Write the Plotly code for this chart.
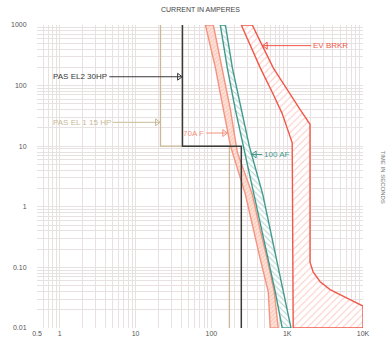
import numpy as np
import plotly.graph_objects as go

# ---------------- data ----------------
# PAS EL2 30HP (step curve)
el2_amps = [41.5, 41.5, 248, 248]
el2_time = [1000, 10, 10, 0.01]
# PAS EL 1 15 HP (step curve)
el1_amps = [21.3, 21.3, 172.6, 172.6]
el1_time = [1000, 10, 10, 0.01]

# 70A F band
f70_time = [1000, 196, 40, 10.2, 1.62, 0.41, 0.137, 0.040, 0.01]
f70_left = [83.4, 113, 144, 178, 280, 357, 441, 562, 597]
f70_right = [106, 139, 178, 220, 346, 441, 546, 674, 762]
f70_rtime = [1000, 196, 40, 7.9, 1.62, 0.41, 0.137, 0.040, 0.01]

# 100 AF band
af_time = [1000, 196, 40, 10.2, 1.62, 0.41, 0.137, 0.040, 0.01]
af_left = [131, 162, 207, 264, 364, 462, 562, 695, 859]
af_rtime = [1000, 196, 40, 10, 1.62, 0.41, 0.137, 0.040, 0.01]
af_right = [153, 189, 248, 316, 475, 597, 723, 889, 1122]

# EV BRKR band
ev_ltime = [1000, 457, 196, 72, 34.5, 11.4, 0.01]
ev_left = [248, 326, 441, 654, 859, 1164, 1200]
ev_rtime = [1000, 457, 196, 84, 40, 23, 0.122, 0.084, 0.058, 0.043, 0.031, 0.023, 0.01]
ev_right = [346, 469, 654, 1000, 1483, 2000, 2000, 2198, 2718, 3680, 6155, 10000, 10000]

# labels
labels = ["PAS EL2 30HP", "PAS EL 1 15 HP", "70A F", "100 AF", "EV BRKR"]
label_time = [140, 24.8, 16.5, 7.3, 457]
label_text_amps = [4.5, 5.0, 85, 469, 2070]
label_tip_amps = [41.5, 21.3, 165, 331, 469]
label_mark_amps = [37.5, 19.2, 148, 372, 520]
label_colors = ["#3a3a3a", "#c9b998", "#f4917e", "#3f9a8c", "#f0584a"]
label_side = ["left", "left", "left", "right", "right"]

x_major = [0.5, 1, 10, 100, 1000, 10000]
x_major_text = ["0.5", "1", "10", "100", "1K", "10K"]
y_major = [0.01, 0.1, 1, 10, 100, 1000]
y_major_text = ["0.01", "0.10", "1", "10", "100", "1000"]

# ---------------- figure ----------------
fig = go.Figure()

def band(left_a, left_t, right_a, right_t, line_c, fg, bg, shape, size, sol):
    xs = list(left_a) + list(right_a)[::-1] + [left_a[0]]
    ys = list(left_t) + list(right_t)[::-1] + [left_t[0]]
    fig.add_trace(go.Scatter(
        x=xs, y=ys, mode="lines", fill="toself",
        line=dict(color=line_c, width=1.4),
        fillcolor=bg,
        fillpattern=dict(shape=shape, fgcolor=fg, bgcolor=bg, size=size, solidity=sol),
        hoverinfo="skip", showlegend=False))

band(f70_left, f70_time, f70_right, f70_rtime, "#f39380", "#f5a390", "#fde2d8", "/", 3, 0.3)
band(af_left, af_time, af_right, af_rtime, "#3f9a8c", "#5fa69c", "#ffffff", "\\", 4, 0.25)
band(ev_left, ev_ltime, ev_right, ev_rtime, "#f0584a", "#f7958a", "#ffffff", "/", 5, 0.2)

fig.add_trace(go.Scatter(x=el1_amps, y=el1_time, mode="lines",
                         line=dict(color="#c9b998", width=1.3), hoverinfo="skip", showlegend=False))
fig.add_trace(go.Scatter(x=el2_amps, y=el2_time, mode="lines",
                         line=dict(color="#3a3a3a", width=1.5), hoverinfo="skip", showlegend=False))

for txt, t, ta, tip, mk, c, side in zip(labels, label_time, label_text_amps, label_tip_amps,
                                          label_mark_amps, label_colors, label_side):
    fig.add_trace(go.Scatter(x=[ta, tip], y=[t, t], mode="lines",
                             line=dict(color=c, width=1), hoverinfo="skip", showlegend=False))
    sym = "triangle-right-open" if side == "left" else "triangle-left-open"
    fig.add_trace(go.Scatter(x=[mk], y=[t], mode="markers",
                             marker=dict(symbol=sym, size=6, color=c, line=dict(width=1, color=c)),
                             hoverinfo="skip", showlegend=False))
    fig.add_annotation(x=np.log10(ta), y=np.log10(t), xref="x", yref="y", text=txt,
                       showarrow=False, xanchor="right" if side == "left" else "left",
                       yanchor="middle", font=dict(size=8, color=c, family="Liberation Sans"))

def log_grid(lo_exp, hi_exp):
    vals = []
    for e in range(lo_exp, hi_exp):
        for m in range(1, 10):
            vals.append(m * 10 ** e)
    vals.append(10 ** hi_exp)
    return vals

def labels_for(vals, majors, texts):
    out = []
    for v in vals:
        lab = ""
        for m, s in zip(majors, texts):
            if abs(v - m) < 1e-9 * max(1, m):
                lab = s
        out.append(lab)
    return out

xv = [v for v in log_grid(-1, 4) if v >= 0.5 - 1e-9]
xt = labels_for(xv, x_major, x_major_text)
yv = log_grid(-2, 3)
yt = labels_for(yv, y_major, y_major_text)

grid_c = "#e8e1e1"
fig.update_xaxes(type="log", range=[np.log10(0.5), 4], tickvals=xv, ticktext=xt,
                 showgrid=True, gridcolor=grid_c, gridwidth=1, zeroline=False,
                 showline=False, ticks="", tickfont=dict(size=7, color="#555", family="Liberation Sans"))
fig.update_yaxes(type="log", range=[-2, 3], tickvals=yv, ticktext=yt,
                 showgrid=True, gridcolor=grid_c, gridwidth=1, zeroline=False,
                 showline=False, ticks="outside", ticklen=8, tickcolor="rgba(0,0,0,0)",
                 tickfont=dict(size=7, color="#555", family="Liberation Sans"))

fig.add_annotation(x=0.5, y=1, xref="paper", yref="paper", yshift=16, text="CURRENT IN AMPERES",
                   showarrow=False, xanchor="center", yanchor="middle",
                   font=dict(size=7, color="#444", family="Liberation Sans"))
fig.add_annotation(x=1, y=0.5, xref="paper", yref="paper", xshift=20, text="TIME IN SECONDS",
                   showarrow=False, textangle=90, xanchor="center", yanchor="middle",
                   font=dict(size=6, color="#777", family="Liberation Sans"))

fig.update_layout(width=391, height=348, margin=dict(l=36, r=28, t=25, b=11),
                  paper_bgcolor="white", plot_bgcolor="white", showlegend=False)

fig.write_html("out.html")
